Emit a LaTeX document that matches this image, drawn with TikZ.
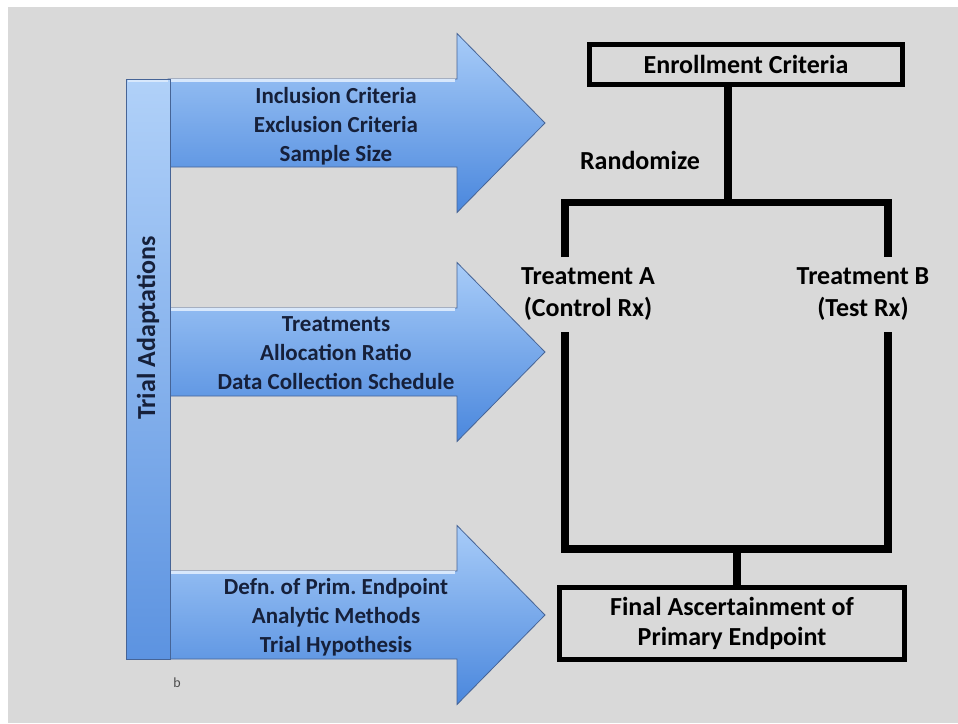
\documentclass[tikz,border=0pt]{standalone}
\usepackage{fontspec}
\setmainfont{Carlito}
\usetikzlibrary{positioning}
\frenchspacing

\begin{document}
\begin{tikzpicture}[x=1pt, y=-1pt]

\definecolor{slide}{RGB}{217,217,217}
\definecolor{bluetop}{RGB}{168,204,248}
\definecolor{bluebot}{RGB}{74,135,221}
\definecolor{blueedge}{RGB}{70,100,150}
\definecolor{navytext}{RGB}{22,32,58}

\tikzset{
  adapt/.style={font=\bfseries\fontsize{23}{29}\selectfont, text=navytext, align=center},
  flow/.style={font=\bfseries\fontsize{26}{32}\selectfont, align=center},
  stagebox/.style={draw, line width=5pt, inner sep=0pt, align=center,
    font=\bfseries\fontsize{26}{30}\selectfont},
  link/.style={line width=7.5pt},
}

\useasboundingbox (0,0) rectangle (958,723);
\fill[white] (0,0) rectangle (958,723);
\fill[slide] (8,7) rectangle (958,723);

% the three adaptation arrows
\foreach \cy in {123,352,615}{
  \draw[blueedge, line width=0.8pt, top color=bluetop, bottom color=bluebot]
    (168,\cy-44) -- (457,\cy-44) -- (457,\cy-89.5) -- (545,\cy)
    -- (457,\cy+89.5) -- (457,\cy+44) -- (168,\cy+44) -- cycle;
  \draw[white!55!bluetop, line width=2.5pt] (171,\cy-42.5) -- (455,\cy-42.5);
}

% vertical bar
\draw[blueedge, line width=0.8pt, top color=bluetop!90!white, bottom color=bluebot!90!white]
  (126,79) rectangle (170,659);
\draw[white!55!bluetop, line width=2.5pt] (128,81) -- (168,81);
\node[rotate=90, font=\bfseries\fontsize{26}{30}\selectfont, text=navytext] (trial) at (148,328) {Trial Adaptations};

\node[adapt] (incl) at (336,126) {Inclusion Criteria\\Exclusion Criteria\\Sample Size};
\node[adapt] (treat) at (336,353) {Treatments\\Allocation Ratio\\Data Collection Schedule};
\node[adapt] (defn) at (336,617) {Defn. of Prim. Endpoint\\Analytic Methods\\Trial Hypothesis};

\node[font=\fontsize{14}{16}\selectfont, text=black!70] (tag) at (177,683) {b};

% trial flow
\node[stagebox, minimum width=313, minimum height=40] (enroll) at (746,64.5) {Enrollment Criteria};
\node[flow] (rand) at (640,160) {Randomize};
\node[flow] (armA) at (588,294) {Treatment A\\(Control Rx)};
\node[flow] (armB) at (863,294) {Treatment B\\(Test Rx)};
\node[stagebox, minimum width=345, minimum height=72] (final) at (732,623.5) {Final Ascertainment of\\Primary Endpoint};

\coordinate (split) at (728,202.5);
\coordinate (legA) at (565,257);
\coordinate (legB) at (888,257);
\coordinate (armAend) at (565,332);
\coordinate (armBend) at (888,332);
\coordinate (join) at (737,549);

\draw[link] (enroll.south -| split) -- (split);
\draw[link] (legA) -- (legA |- split) -- (legB |- split) -- (legB);
\draw[link] (armAend) -- (armAend |- join) -- (armBend |- join) -- (armBend);
\draw[link] (join) -- (final.north -| join);

\end{tikzpicture}
\end{document}
